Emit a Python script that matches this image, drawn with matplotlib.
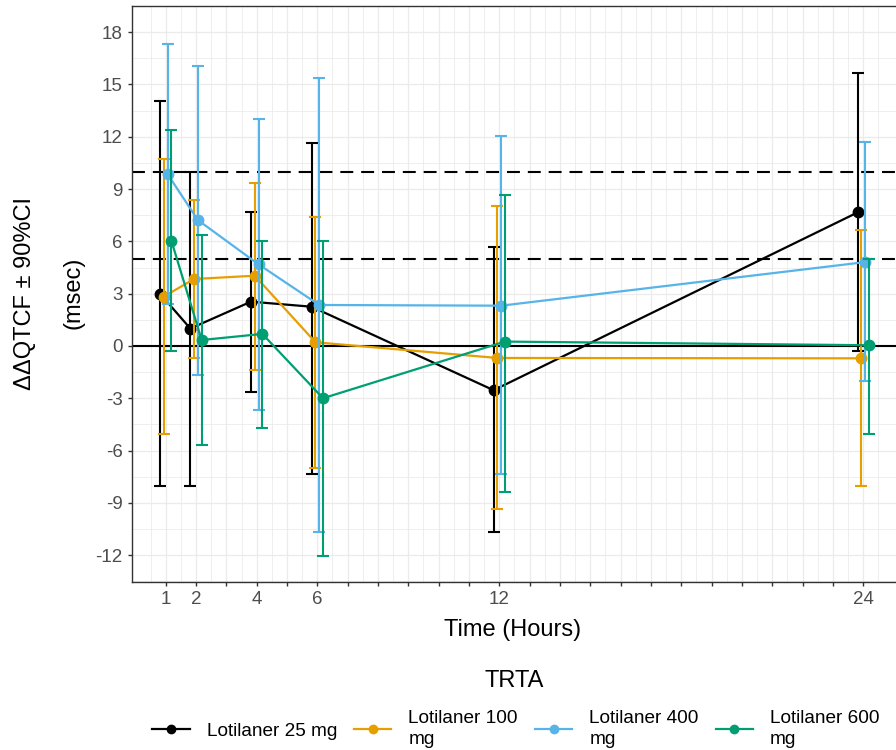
import matplotlib
matplotlib.use("Agg")
import matplotlib.pyplot as plt
import numpy as np

plt.rcParams['font.family'] = ['Liberation Sans', 'DejaVu Sans']
plt.rcParams['axes.unicode_minus'] = False

# Time points (hours) and treatment groups
hours = [1, 2, 4, 6, 12, 24]
labelled_hours = [1, 2, 4, 6, 12, 24]
groups = ["Lotilaner 25 mg", "Lotilaner 100\nmg", "Lotilaner 400\nmg", "Lotilaner 600\nmg"]
colors = ["#000000", "#E69F00", "#56B4E9", "#009E73"]

# ddQTcF point estimates and 90% CI bounds (msec)
mean_25 = [3.0, 1.0, 2.54, 2.25, -2.54, 7.66]
lower_25 = [-8.05, -8.03, -2.67, -7.36, -10.7, -0.3]
upper_25 = [14.04, 10.0, 7.7, 11.67, 5.67, 15.66]

mean_100 = [2.83, 3.84, 4.03, 0.21, -0.69, -0.71]
lower_100 = [-5.06, -0.71, -1.38, -7.0, -9.38, -8.06]
upper_100 = [10.7, 8.35, 9.36, 7.37, 8.02, 6.65]

mean_400 = [9.86, 7.22, 4.68, 2.35, 2.31, 4.81]
lower_400 = [2.4, -1.68, -3.69, -10.7, -7.36, -2.0]
upper_400 = [17.35, 16.05, 13.03, 15.38, 12.03, 11.69]

mean_600 = [6.04, 0.34, 0.69, -3.0, 0.25, 0.04]
lower_600 = [-0.29, -5.69, -4.72, -12.07, -8.37, -5.06]
upper_600 = [12.38, 6.36, 6.04, 6.04, 8.67, 5.0]

means = [mean_25, mean_100, mean_400, mean_600]
lowers = [lower_25, lower_100, lower_400, lower_600]
uppers = [upper_25, upper_100, upper_400, upper_600]

W, H = 896, 750
fig = plt.figure(figsize=(W / 100, H / 100), dpi=100)
ax = fig.add_axes([131.7 / W, 167.7 / H, (900 - 131.7) / W, 576.6 / H])

# reference lines
ax.axhline(0, color="black", lw=1.5, zorder=1.5)
for ref in (5, 10):
    ax.axhline(ref, color="black", lw=1.5, ls=(0, (6.2, 3.8)), zorder=1.5)

# dodge groups side by side around each time point
dodge_width = 0.5
n = len(groups)
handles = []
for i, (g, c, m, lo, up) in enumerate(zip(groups, colors, means, lowers, uppers)):
    off = (i - (n - 1) / 2) * dodge_width / n
    x = np.array(hours, dtype=float) + off
    m = np.array(m)
    lo = np.array(lo)
    up = np.array(up)
    ax.errorbar(x, m, yerr=[m - lo, up - m], fmt="none", ecolor=c,
                elinewidth=1.5, capsize=4.3, capthick=1.5, zorder=3 + i)
    ln, = ax.plot(x, m, color=c, lw=1.6, marker="o", ms=7.5, zorder=3 + i, label=g)
    handles.append(ln)

ax.set_xlim(-0.12, 25.21)
ax.set_ylim(-13.56, 19.52)

ax.set_xticks(range(1, 25))
ax.set_xticklabels([str(h) if h in labelled_hours else "" for h in range(1, 25)])
ax.set_xticks(np.arange(0.5, 25.5, 1.0), minor=True)
ax.set_yticks(np.arange(-12, 19, 3))
ax.set_yticks(np.arange(-13.5, 20, 3), minor=True)

ax.grid(True, which="major", color="#EBEBEB", lw=0.9, zorder=0)
ax.grid(True, which="minor", color="#EBEBEB", lw=0.6, zorder=0)
ax.set_axisbelow(True)

ax.tick_params(which="major", length=3.2, width=1.0, color="#333333",
               labelcolor="#4D4D4D", labelsize=13.5, pad=3.4)
ax.tick_params(which="minor", length=0)
for sp in ax.spines.values():
    sp.set_color("#333333")
    sp.set_linewidth(1.0)

# axis titles
fig.text(513 / W, 1 - 630 / H, "Time (Hours)", fontsize=17, ha="center", va="center")
fig.text(25 / W, 1 - 293 / H, "ΔΔQTCF ± 90%CI", fontsize=17, rotation=90,
         ha="center", va="center")
fig.text(73 / W, 1 - 293 / H, "(msec)", fontsize=17, rotation=90,
         ha="center", va="center")

# legend title and keys
fig.text(514 / W, 1 - 681 / H, "TRTA", fontsize=17, ha="center", va="center")
leg = fig.legend(handles, groups, loc="center",
                 bbox_to_anchor=(516 / W, 1 - 729 / H), ncol=4,
                 fontsize=13.7, frameon=False, markerscale=0.8,
                 handlelength=1.95, handletextpad=0.9, columnspacing=0.9,
                 borderpad=0.0, labelspacing=0.2)
for t in leg.get_texts():
    t.set_linespacing(1.35)

fig.savefig("out.png", dpi=100)
